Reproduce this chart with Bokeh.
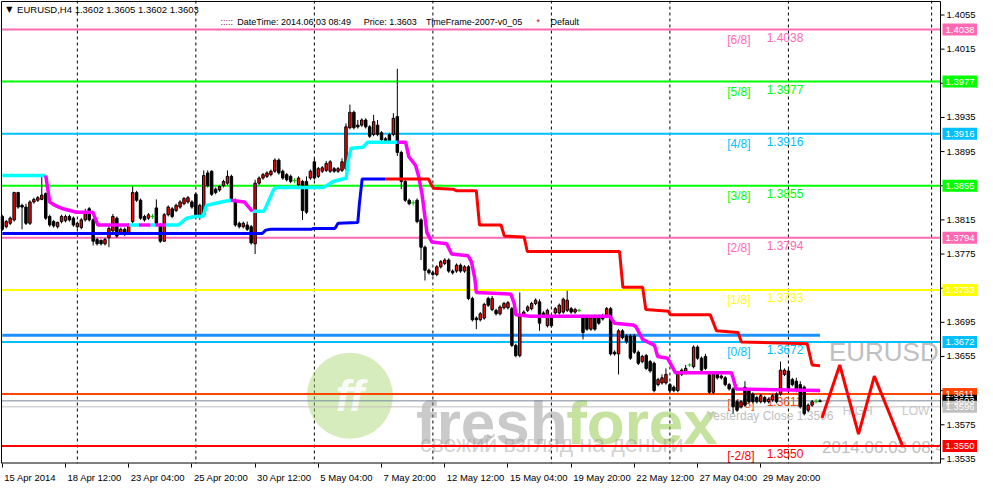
from bokeh.plotting import figure
from bokeh.models import Range1d, FixedTicker, Span
from bokeh.core.properties import value
from bokeh.embed import file_html
from bokeh.resources import INLINE

FONT = "Liberation Sans"

# ---------------- data ----------------
symbol = "EURUSD,H4"
opens = [
 1.3819,1.3807,1.3811,1.3815,1.3847,1.3832,1.3830,1.3811,1.3836,1.3838,
 1.3839,1.3846,1.3819,1.3813,1.3807,1.3813,1.3814,1.3819,1.3817,1.3807,
 1.3806,1.3815,1.3828,1.3815,1.3792,1.3791,1.3787,1.3794,1.3802,1.3817,
 1.3800,1.3804,1.3800,1.3813,1.3847,1.3838,1.3819,1.3817,1.3819,1.3829,
 1.3809,1.3790,1.3821,1.3828,1.3826,1.3830,1.3834,1.3836,1.3836,1.3845,
 1.3819,1.3821,1.3870,1.3872,1.3851,1.3850,1.3855,1.3858,1.3866,1.3838,
 1.3811,1.3807,1.3809,1.3807,1.3787,1.3858,1.3864,1.3866,1.3868,1.3872,
 1.3885,1.3872,1.3868,1.3866,1.3861,1.3856,1.3860,1.3860,1.3864,1.3883,
 1.3866,1.3872,1.3873,1.3872,1.3875,1.3872,1.3873,1.3875,1.3923,1.3941,
 1.3926,1.3926,1.3932,1.3924,1.3915,1.3926,1.3917,1.3910,1.3915,1.3915,
 1.3936,1.3894,1.3860,1.3838,1.3835,1.3838,1.3815,1.3783,1.3756,1.3753,
 1.3751,1.3760,1.3764,1.3768,1.3755,1.3755,1.3762,1.3755,1.3760,1.3723,
 1.3700,1.3698,1.3700,1.3723,1.3710,1.3709,1.3705,1.3712,1.3712,1.3711,
 1.3668,1.3656,1.3704,1.3709,1.3711,1.3717,1.3719,1.3706,1.3691,1.3702,
 1.3706,1.3706,1.3707,1.3709,1.3711,1.3707,1.3709,1.3702,1.3700,1.3687,
 1.3702,1.3702,1.3702,1.3702,1.3711,1.3660,1.3658,1.3685,1.3679,1.3679,
 1.3679,1.3660,1.3649,1.3656,1.3649,1.3647,1.3622,1.3624,1.3624,1.3622,
 1.3619,1.3615,1.3634,1.3636,1.3645,1.3643,1.3666,1.3653,1.3655,1.3634,
 1.3613,1.3634,1.3630,1.3630,1.3622,1.3617,1.3602,1.3596,1.3619,1.3615,
 1.3611,1.3607,1.3602,1.3607,1.3602,1.3604,1.3611,1.3611,1.3634,1.3638,
 1.3628,1.3626,1.3622,1.3619,1.3592,1.3598,1.3602,1.3602]
highs = [
 1.3821,1.3815,1.3819,1.3848,1.3848,1.3834,1.3834,1.3838,1.3841,1.3843,
 1.3866,1.3847,1.3821,1.3815,1.3813,1.3821,1.3821,1.3821,1.3819,1.3813,
 1.3817,1.3828,1.3830,1.3817,1.3794,1.3792,1.3794,1.3808,1.3822,1.3819,
 1.3806,1.3806,1.3811,1.3854,1.3849,1.3840,1.3821,1.3823,1.3822,1.3839,
 1.3811,1.3823,1.3832,1.3830,1.3834,1.3838,1.3842,1.3843,1.3838,1.3847,
 1.3834,1.3873,1.3873,1.3873,1.3853,1.3856,1.3862,1.3873,1.3868,1.3840,
 1.3813,1.3813,1.3813,1.3809,1.3862,1.3866,1.3870,1.3872,1.3874,1.3887,
 1.3887,1.3874,1.3870,1.3868,1.3864,1.3866,1.3862,1.3866,1.3874,1.3887,
 1.3877,1.3878,1.3884,1.3885,1.3877,1.3877,1.3887,1.3928,1.3950,1.3943,
 1.3932,1.3934,1.3934,1.3926,1.3938,1.3932,1.3919,1.3912,1.3917,1.3940,
 1.3992,1.3896,1.3862,1.3840,1.3838,1.3840,1.3817,1.3785,1.3758,1.3755,
 1.3762,1.3768,1.3770,1.3770,1.3757,1.3764,1.3764,1.3762,1.3762,1.3725,
 1.3702,1.3707,1.3718,1.3725,1.3726,1.3711,1.3715,1.3719,1.3720,1.3713,
 1.3670,1.3730,1.3709,1.3715,1.3719,1.3723,1.3722,1.3708,1.3711,1.3704,
 1.3713,1.3717,1.3724,1.3732,1.3713,1.3712,1.3711,1.3704,1.3702,1.3702,
 1.3704,1.3704,1.3705,1.3713,1.3713,1.3662,1.3687,1.3687,1.3681,1.3681,
 1.3681,1.3662,1.3657,1.3658,1.3651,1.3649,1.3630,1.3634,1.3641,1.3624,
 1.3621,1.3638,1.3641,1.3645,1.3647,1.3668,1.3668,1.3655,1.3658,1.3636,
 1.3636,1.3636,1.3634,1.3632,1.3624,1.3619,1.3604,1.3604,1.3626,1.3617,
 1.3613,1.3609,1.3611,1.3609,1.3607,1.3611,1.3613,1.3649,1.3641,1.3641,
 1.3630,1.3630,1.3626,1.3621,1.3600,1.3604,1.3605,1.3605]
lows = [
 1.3802,1.3805,1.3809,1.3813,1.3828,1.3804,1.3809,1.3809,1.3834,1.3836,
 1.3838,1.3815,1.3807,1.3806,1.3805,1.3811,1.3812,1.3813,1.3807,1.3805,
 1.3804,1.3813,1.3813,1.3785,1.3785,1.3785,1.3785,1.3783,1.3800,1.3794,
 1.3798,1.3796,1.3798,1.3811,1.3836,1.3815,1.3813,1.3815,1.3816,1.3809,
 1.3788,1.3790,1.3819,1.3817,1.3824,1.3828,1.3832,1.3834,1.3828,1.3817,
 1.3815,1.3819,1.3853,1.3843,1.3845,1.3848,1.3853,1.3856,1.3836,1.3807,
 1.3805,1.3805,1.3802,1.3786,1.3775,1.3856,1.3862,1.3864,1.3866,1.3870,
 1.3868,1.3862,1.3860,1.3858,1.3858,1.3854,1.3815,1.3822,1.3862,1.3862,
 1.3864,1.3870,1.3871,1.3870,1.3870,1.3870,1.3871,1.3873,1.3921,1.3921,
 1.3922,1.3924,1.3922,1.3911,1.3913,1.3913,1.3907,1.3905,1.3904,1.3913,
 1.3890,1.3851,1.3836,1.3832,1.3832,1.3811,1.3768,1.3744,1.3751,1.3749,
 1.3749,1.3758,1.3762,1.3753,1.3751,1.3753,1.3753,1.3753,1.3721,1.3696,
 1.3687,1.3696,1.3698,1.3713,1.3708,1.3703,1.3703,1.3710,1.3710,1.3666,
 1.3654,1.3654,1.3702,1.3707,1.3709,1.3715,1.3685,1.3700,1.3689,1.3689,
 1.3704,1.3704,1.3705,1.3707,1.3705,1.3705,1.3707,1.3675,1.3685,1.3685,
 1.3685,1.3692,1.3697,1.3700,1.3656,1.3656,1.3634,1.3675,1.3670,1.3651,
 1.3658,1.3645,1.3647,1.3639,1.3636,1.3613,1.3620,1.3622,1.3622,1.3613,
 1.3613,1.3613,1.3632,1.3634,1.3643,1.3641,1.3651,1.3637,1.3639,1.3611,
 1.3611,1.3628,1.3628,1.3620,1.3615,1.3588,1.3590,1.3594,1.3596,1.3600,
 1.3600,1.3600,1.3600,1.3600,1.3600,1.3602,1.3600,1.3609,1.3632,1.3613,
 1.3620,1.3613,1.3594,1.3586,1.3590,1.3596,1.3600,1.3602]
closes = [
 1.3804,1.3813,1.3817,1.3847,1.3830,1.3830,1.3811,1.3836,1.3839,1.3841,
 1.3844,1.3817,1.3809,1.3808,1.3812,1.3819,1.3819,1.3815,1.3809,1.3811,
 1.3815,1.3824,1.3815,1.3790,1.3787,1.3787,1.3792,1.3805,1.3819,1.3796,
 1.3804,1.3798,1.3809,1.3847,1.3838,1.3817,1.3815,1.3821,1.3819,1.3811,
 1.3790,1.3821,1.3830,1.3819,1.3832,1.3836,1.3840,1.3841,1.3830,1.3819,
 1.3832,1.3867,1.3855,1.3845,1.3847,1.3854,1.3860,1.3866,1.3838,1.3809,
 1.3807,1.3811,1.3804,1.3788,1.3858,1.3864,1.3868,1.3870,1.3872,1.3885,
 1.3870,1.3864,1.3862,1.3860,1.3861,1.3864,1.3826,1.3824,1.3872,1.3864,
 1.3875,1.3876,1.3881,1.3883,1.3872,1.3875,1.3883,1.3924,1.3941,1.3923,
 1.3924,1.3932,1.3924,1.3913,1.3930,1.3915,1.3909,1.3907,1.3906,1.3934,
 1.3894,1.3860,1.3838,1.3834,1.3835,1.3813,1.3783,1.3756,1.3753,1.3751,
 1.3760,1.3766,1.3768,1.3755,1.3753,1.3762,1.3755,1.3760,1.3723,1.3698,
 1.3698,1.3705,1.3716,1.3715,1.3723,1.3705,1.3713,1.3717,1.3718,1.3668,
 1.3656,1.3702,1.3707,1.3713,1.3717,1.3721,1.3694,1.3702,1.3709,1.3691,
 1.3711,1.3715,1.3722,1.3721,1.3707,1.3710,1.3709,1.3683,1.3687,1.3700,
 1.3687,1.3694,1.3699,1.3711,1.3658,1.3658,1.3685,1.3677,1.3672,1.3653,
 1.3660,1.3647,1.3655,1.3641,1.3638,1.3615,1.3628,1.3630,1.3634,1.3615,
 1.3615,1.3636,1.3639,1.3641,1.3645,1.3666,1.3653,1.3639,1.3641,1.3613,
 1.3634,1.3630,1.3632,1.3622,1.3617,1.3596,1.3592,1.3602,1.3598,1.3602,
 1.3602,1.3602,1.3609,1.3602,1.3605,1.3609,1.3602,1.3639,1.3639,1.3615,
 1.3622,1.3615,1.3596,1.3588,1.3598,1.3602,1.3602,1.3603]

# time axis (bar index -> label)
x_tick_bars = [0, 16, 32, 48, 64, 80, 96, 112, 128, 144, 160, 176, 192]
x_tick_labels = ["15 Apr 2014", "18 Apr 12:00", "23 Apr 04:00", "25 Apr 20:00",
                 "30 Apr 12:00", "5 May 04:00", "7 May 20:00", "12 May 12:00",
                 "15 May 04:00", "19 May 20:00", "22 May 12:00", "27 May 04:00",
                 "29 May 20:00"]
week_start_bars = [19, 49, 79, 109, 139, 169, 199, 235.25]
y_ticks = [1.4055, 1.4015, 1.3975, 1.3935, 1.3895, 1.3855, 1.3815, 1.3775,
           1.3735, 1.3695, 1.3655, 1.3615, 1.3575, 1.3535]

# Murrey math levels
mm_labels = ["[6/8]", "[5/8]", "[4/8]", "[3/8]", "[2/8]", "[1/8]", "[0/8]", "[-1/8]", "[-2/8]"]
mm_values = [1.4038, 1.3977, 1.3916, 1.3855, 1.3794, 1.3733, 1.3672, 1.3611, 1.3550]
mm_colors = ["#ff69b4", "#00ff00", "#00bfff", "#00ff00", "#ff69b4", "#ffff00",
             "#00bfff", "#ff4500", "#ff0000"]
yesterday_close = 1.3596
current_price = 1.3603
pivot_level = 1.3680

# trailing line (up = cyan, down = magenta)
trail_up_x = [[0, 11], [32, 34.6], [37.5, 38.75],
              [41.25, 44.6, 46.7, 48.75, 50.8, 51.7, 55.4, 57.9],
              [63.3, 66.25, 68.75, 69.6, 81.25, 82.1, 83.75, 87.1, 87.5, 88.3, 91.25, 92.5, 100]]
trail_up_y = [[1.3867, 1.3867], [1.3809, 1.3809], [1.3809, 1.3809],
              [1.3809, 1.3809, 1.3817, 1.3819, 1.3819, 1.3832, 1.3836, 1.3838],
              [1.3825, 1.3825, 1.3851, 1.3853, 1.3853, 1.3855, 1.3860, 1.3864, 1.3883, 1.3899, 1.3900, 1.3906, 1.3906]]
trail_dn_x = [[11, 12, 13.3, 15.4, 18.75, 22.9, 24.2, 32], [34.6, 37.5], [38.75, 41.25],
              [57.9, 61.25, 63.3],
              [100, 102.1, 102.9, 104.6, 105.4, 106.25, 107.5, 108.75, 112.5, 113.75, 117.9,
               118.75, 119.6, 120, 128.75, 129.6, 130, 133.75, 153.75, 155, 159.6, 160.4,
               162.1, 165.1, 165.9, 168.4, 170.4, 184.6, 185.8, 207]]
trail_dn_y = [[1.3867, 1.3836, 1.3832, 1.3828, 1.3824, 1.3824, 1.3809, 1.3809], [1.3809, 1.3809],
              [1.3809, 1.3809], [1.3838, 1.3836, 1.3825],
              [1.3906, 1.3906, 1.3889, 1.3879, 1.3866, 1.3845, 1.3800, 1.3789, 1.3787, 1.3775, 1.3773,
               1.3766, 1.3747, 1.3730, 1.3728, 1.3717, 1.3704, 1.3702, 1.3702, 1.3694, 1.3692, 1.3690,
               1.3675, 1.3668, 1.3655, 1.3653, 1.3636, 1.3636, 1.3617, 1.3615]]
# stop line (support = blue, resistance = red)
stop_up_x = [0, 65.8, 66.7, 67.9, 78.3, 78.75, 84.2, 85, 90, 90.4, 91.1, 96.9]
stop_up_y = [1.3799, 1.3799, 1.3803, 1.3804, 1.3804, 1.3805, 1.3805, 1.3811, 1.3812, 1.3834, 1.3863, 1.3863]
stop_dn_x = [96.9, 107.9, 108.6, 109.2, 114.2, 115, 120, 120.8, 126.25, 127.1, 132.1, 132.9,
             156.25, 157.1, 162.1, 162.9, 168.75, 169, 179.2, 180.8, 186.25, 187.1, 203.75, 205, 207]
stop_dn_y = [1.3863, 1.3863, 1.3856, 1.3852, 1.3851, 1.3849, 1.3849, 1.3809, 1.3809, 1.3796, 1.3795,
             1.3778, 1.3778, 1.3736, 1.3736, 1.3710, 1.3708, 1.3704, 1.3704, 1.3685, 1.3683, 1.3672,
             1.3670, 1.3645, 1.3644]
# projected zigzag
zz_x = [207.5, 212, 216.75, 220.75, 228]
zz_y = [1.3583, 1.3645, 1.3564, 1.3632, 1.3549]

# right-hand price tags
tag_values = [1.4038, 1.3977, 1.3916, 1.3855, 1.3794, 1.3733, 1.3672, 1.3611, 1.3603, 1.3596, 1.3550]
tag_colors = ["#ff69b4", "#00ff00", "#00bfff", "#00ff00", "#ff69b4", "#ffff00",
              "#00bfff", "#ff4500", "#000000", "#c0c0c0", "#ff0000"]


# ---------------- layout helpers ----------------
def px(x):   # reference-pixel x -> bar coordinate (text placement only)
    return (x - 5) / 4.0


def py(y):   # reference-pixel y -> price (text placement only)
    return 1.4038 - (y - 33) / 8832.0


W, H = 977, 485
BOTTOM = 15
FH = H - BOTTOM
CHART_PX = 940                     # chart width in screen px
X_LEFT, X_RIGHT = -0.2, 237.5      # chart edges in bar units
PPB = (CHART_PX - 1) / (X_RIGHT - X_LEFT)
P_BOT, P_TOP = py(482), py(4)
PPP = (P_TOP - P_BOT) / (FH - 1)   # price per px


def dx(n):
    return n / PPB


x_start = X_LEFT - dx(1)
x_end = x_start + W / PPB

p = figure(width=W, height=H, x_range=Range1d(x_start, x_end),
           y_range=Range1d(P_BOT, P_TOP + PPP),
           output_backend="svg", toolbar_location=None, y_axis_location=None,
           min_border_left=0, min_border_top=0, min_border_right=0, min_border_bottom=BOTTOM)
p.xgrid.visible = False
p.ygrid.visible = False
p.outline_line_color = None


# bottom time axis: minor ticks at the bars, labels left-aligned after them
def text_w(s, size=9.5):
    w = {" ": 0.278, ":": 0.278, ".": 0.278, "A": 0.667, "M": 0.833, "p": 0.556,
         "r": 0.333, "a": 0.556, "y": 0.5}
    return sum(w.get(ch, 0.556) for ch in s) * size


label_pos = [b + dx(2 + text_w(t) / 2) for b, t in zip(x_tick_bars, x_tick_labels)]
xax = p.xaxis[0]
xax.ticker = FixedTicker(ticks=label_pos, minor_ticks=x_tick_bars)
xax.major_label_overrides = {pos: t for pos, t in zip(label_pos, x_tick_labels)}
xax.major_label_text_font = FONT
xax.major_label_text_font_size = "9.5px"
xax.major_label_text_color = "black"
xax.major_label_standoff = 4
xax.major_tick_out = 0
xax.major_tick_in = 0
xax.minor_tick_out = 4
xax.minor_tick_in = 0
xax.minor_tick_line_color = "black"
xax.axis_line_color = None

# weekly vertical grid
for b in week_start_bars:
    p.add_layout(Span(location=b, dimension="height", line_color="black",
                      line_dash="3 3", line_width=1, level="underlay"))

# watermark
p.scatter(x=[px(357)], y=[py(412)], size=86, marker="circle", fill_color="#a5d46a",
          fill_alpha=0.45, line_color=None)
p.text(x=[px(357)], y=[py(412)], text=["ff"], text_color="white", text_font=value(FONT),
       text_font_size="44px", text_font_style="bold italic", text_align="center",
       text_baseline="middle", text_alpha=0.9)
p.text(x=[px(424)], y=[py(440)], text=["fresh"], text_color="#8a8a8a", text_font=value(FONT),
       text_font_size="62px", text_font_style="bold", text_baseline="alphabetic", text_alpha=0.45)
p.text(x=[px(576)], y=[py(440)], text=["forex"], text_color="#8cc63f", text_font=value(FONT),
       text_font_size="62px", text_font_style="bold", text_baseline="alphabetic", text_alpha=0.5)
p.text(x=[px(428)], y=[py(462)], text=["свежий взгляд на деньги"], text_color="#9a9a9a",
       text_font=value(FONT), text_font_size="23px", text_baseline="middle", text_alpha=0.45)

# level texts
p.text(x=[px(739)] * len(mm_values), y=mm_values, text=mm_labels, text_color=mm_colors,
       text_font=value(FONT), text_font_size="12px", text_baseline="top", y_offset=3)
p.text(x=[px(779)] * len(mm_values), y=mm_values, text=[f"{v:.4f}" for v in mm_values],
       text_color=mm_colors, text_font=value(FONT), text_font_size="12px",
       text_baseline="top", y_offset=3)
p.text(x=[px(718)], y=[yesterday_close], text=[f"Yesterday Close {yesterday_close:.4f}"],
       text_color="#c0c0c0", text_font=value(FONT), text_font_size="12px",
       text_baseline="top", y_offset=2)
p.text(x=[px(842)], y=[py(367)], text=["EURUSD"], text_color="#c0c0c0",
       text_font=value(FONT), text_font_size="26px", text_baseline="middle")
p.text(x=[px(856), px(916)], y=[py(428), py(428)], text=["HIGH", "LOW"], text_color="#c8c8c8",
       text_font=value(FONT), text_font_size="12px", text_baseline="middle")
p.text(x=[px(835)], y=[py(465)], text=["2014.06.03 08:49"], text_color="#c0c0c0",
       text_font=value(FONT), text_font_size="17px", text_baseline="middle")

# horizontal levels
n = len(mm_values)
p.segment(x0=[0], y0=[pivot_level], x1=[len(closes) - 1], y1=[pivot_level],
          line_color="#1e90ff", line_width=3)
p.segment(x0=[X_LEFT] * n, y0=mm_values, x1=[X_RIGHT] * n, y1=mm_values,
          line_color=mm_colors, line_width=2)
p.segment(x0=[X_LEFT] * 2, y0=[yesterday_close, current_price], x1=[X_RIGHT] * 2,
          y1=[yesterday_close, current_price], line_color=["#c0c0c0", "#778899"], line_width=1)

# candles
idx = list(range(len(closes)))
doji = [abs(o - c) < 0.00005 for o, c in zip(opens, closes)]
wick_col = ["#00c000" if d else "black" for d in doji]
p.segment(x0=idx, y0=lows, x1=idx, y1=highs, line_color=wick_col, line_width=1)
bx = [i for i in idx if not doji[i]]
p.vbar(x=bx, width=0.62, top=[max(opens[i], closes[i]) for i in bx],
       bottom=[min(opens[i], closes[i]) for i in bx],
       fill_color=["#ff0000" if closes[i] > opens[i] else "black" for i in bx],
       line_color="black", line_width=1)
djx = [i for i in idx if doji[i]]
p.segment(x0=[i - 0.5 for i in djx], y0=[closes[i] for i in djx],
          x1=[i + 0.5 for i in djx], y1=[closes[i] for i in djx], line_color="#00c000", line_width=1)

# indicator lines
p.multi_line(xs=trail_up_x, ys=trail_up_y, line_color="#00ffff", line_width=3.5)
p.multi_line(xs=trail_dn_x, ys=trail_dn_y, line_color="#ff00ff", line_width=3.5)
p.line(x=stop_up_x, y=stop_up_y, line_color="#0000ff", line_width=3)
p.line(x=stop_dn_x, y=stop_dn_y, line_color="#ff0000", line_width=3)
p.line(x=zz_x, y=zz_y, line_color="#ff0000", line_width=3)

# header
hdr = f"{symbol} {opens[-1]:.4f} {highs[-1]:.4f} {lows[-1]:.4f} {closes[-1]:.4f}"
p.text(x=[px(9)], y=[py(12)], text=["\u25bc"], text_color="black", text_font=value("DejaVu Sans"),
       text_font_size="8px", text_baseline="middle")
p.text(x=[px(20)], y=[py(12)], text=[hdr], text_color="black", text_font=value(FONT),
       text_font_size="9.5px", text_baseline="middle")
p.text(x=[px(226), px(243), px(371), px(434), px(546), px(560)], y=[py(25)] * 6,
       text=[":::::", "DateTime: 2014.06.03 08:49", f"Price: {closes[-1]:.4f}",
             "TimeFrame-2007-v0_05", "*", "Default"],
       text_color=["#800080", "black", "black", "black", "#c00000", "black"],
       text_font=value(FONT), text_font_size="9px", text_baseline="middle")

# mask everything right of the chart (price-scale area)
p.quad(left=[X_RIGHT], right=[x_end + 1], bottom=[P_BOT - 1], top=[P_TOP + 1],
       fill_color="white", line_color=None)

# chart border
p.segment(x0=[X_LEFT, X_LEFT, X_RIGHT, X_LEFT], y0=[P_TOP, P_BOT, P_BOT, P_BOT],
          x1=[X_RIGHT, X_RIGHT, X_RIGHT, X_LEFT], y1=[P_TOP, P_BOT, P_TOP, P_TOP],
          line_color="black", line_width=[1, 2, 1, 1])

# price scale
m = len(y_ticks)
p.segment(x0=[X_RIGHT] * m, y0=y_ticks, x1=[X_RIGHT + dx(4)] * m, y1=y_ticks,
          line_color="black", line_width=1)
p.text(x=[X_RIGHT + dx(6)] * m, y=y_ticks, text=[f"{v:.4f}" for v in y_ticks],
       text_color="black", text_font=value(FONT), text_font_size="9.5px",
       text_baseline="middle")
k = len(tag_values)
p.rect(x=[X_RIGHT + dx(19.5)] * k, y=tag_values, width=35, height=12,
       width_units="screen", height_units="screen", fill_color=tag_colors, line_color=None)
p.text(x=[X_RIGHT + dx(5)] * k, y=tag_values, text=[f"{v:.4f}" for v in tag_values],
       text_color="white", text_font=value(FONT), text_font_size="9.5px",
       text_baseline="middle")

open("out.html", "w").write(file_html(p, INLINE))
